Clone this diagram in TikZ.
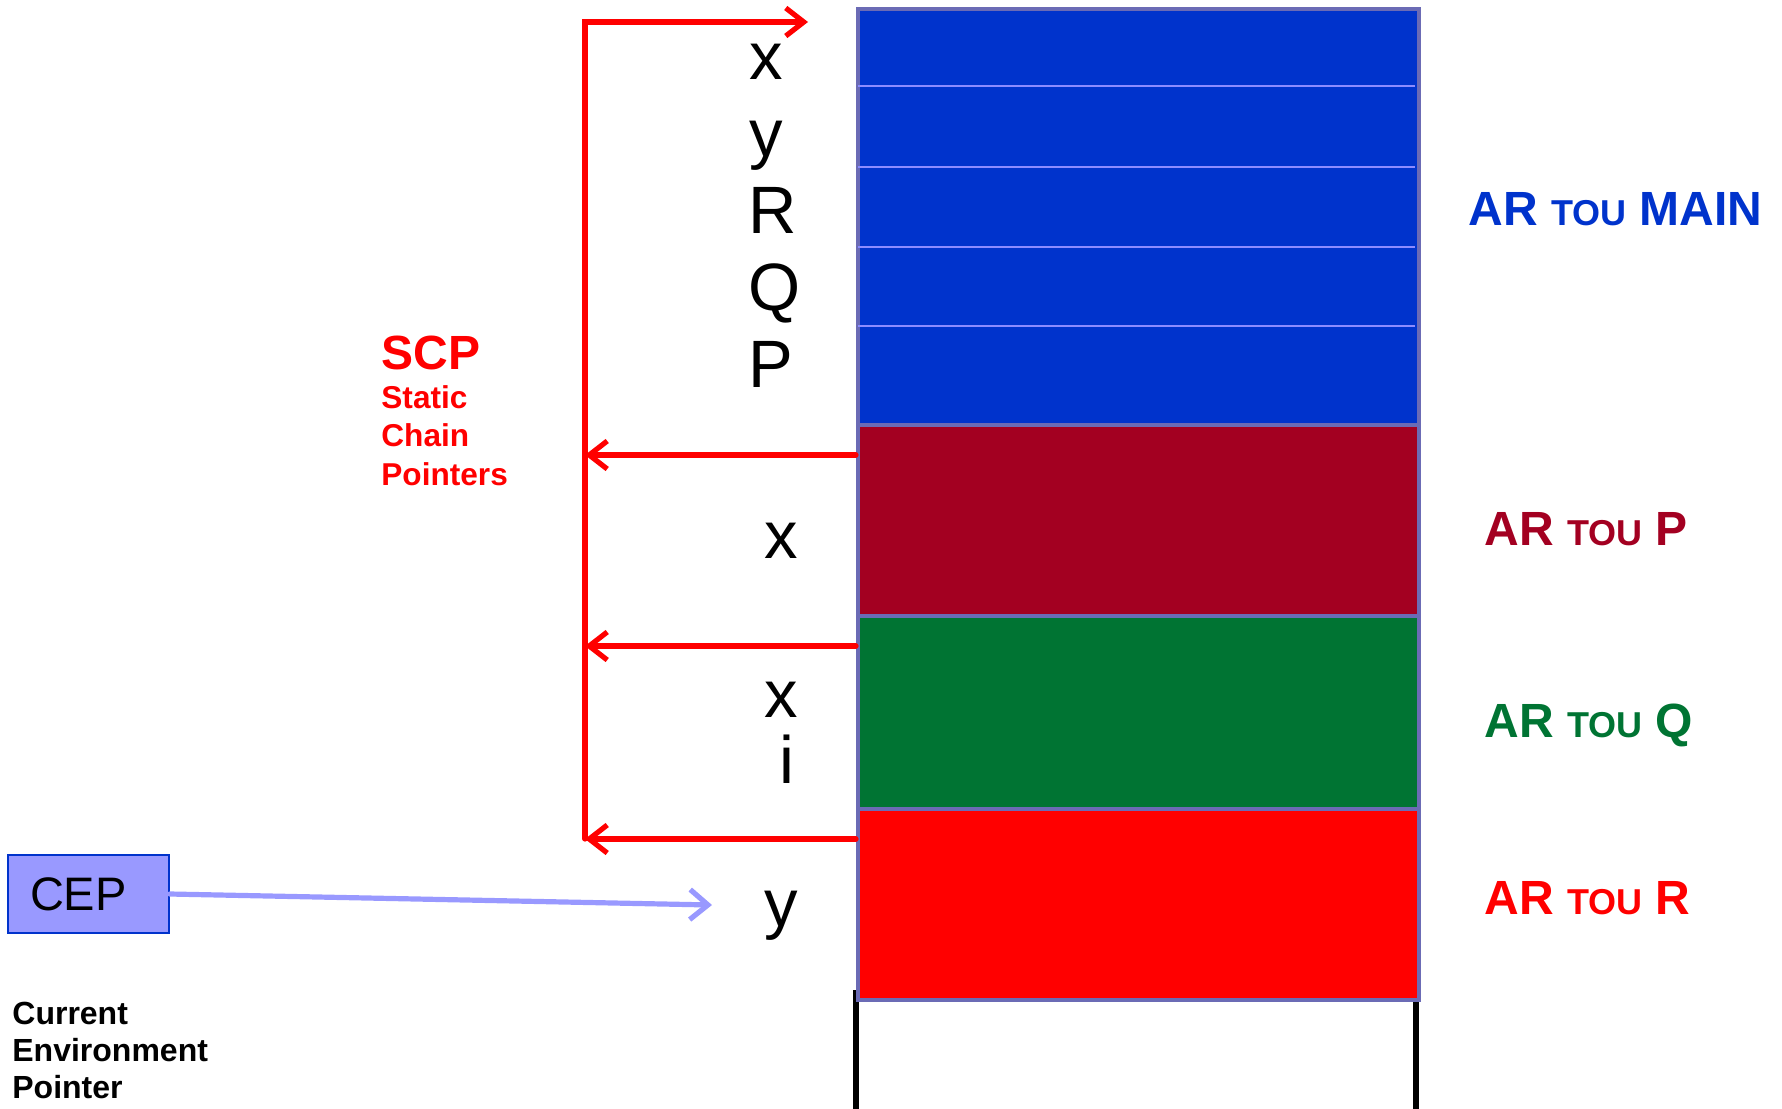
\documentclass[tikz,border=0pt]{standalone}
\usepackage{fontspec}
\setmainfont{Liberation Sans}
\usetikzlibrary{arrows.meta}

\definecolor{arblue}{HTML}{0033CC}
\definecolor{arwine}{HTML}{A30021}
\definecolor{argreen}{HTML}{007433}
\definecolor{arred}{HTML}{FF0000}
\definecolor{frame}{HTML}{6B6BB5}
\definecolor{slot}{HTML}{8C8CFF}
\definecolor{cepfill}{HTML}{9999FF}

\newcommand{\tou}{{\fontsize{18}{18}\selectfont TOU}}

\tikzstyle{arbox} = [rectangle, draw=frame, line width=2.2pt, minimum width=280.5pt, inner sep=0pt, anchor=north west]
\tikzstyle{varlab} = [font=\fontsize{33.5}{33.5}\selectfont, inner sep=0pt]
\tikzstyle{arlab} = [font=\bfseries\fontsize{24}{24}\selectfont, inner sep=0pt, anchor=base west]
\tikzstyle{scp} = [draw=arred, line width=2.6pt, line cap=round, -{Straight Barb[length=9pt,width=14pt]}]
\tikzstyle{cepline} = [draw=cepfill, line width=2.6pt, line cap=round, -{Straight Barb[length=9pt,width=15pt]}]
\tikzstyle{cepbox} = [rectangle, draw=arblue, line width=0.8pt, fill=cepfill, minimum height=39pt, text width=58.5pt, inner xsep=11pt, align=left, font=\fontsize{23.5}{23.5}\selectfont]
\tikzstyle{slotline} = [draw=slot, line width=0.8pt]
\tikzstyle{leg} = [draw=black, line width=3pt]

\begin{document}
\begin{tikzpicture}[x=0.5pt, y=-0.5pt]
    \useasboundingbox (0,0) rectangle (1782,1108);

    % legs of the stack
    \coordinate (legL) at (856,990);
    \coordinate (legR) at (1416,990);
    \draw[leg] (legL) -- ++(0,125);
    \draw[leg] (legR) -- ++(0,125);

    % activation records
    \node[arbox, fill=arblue, minimum height=208pt] (main) at (856,7) {};
    \node[arbox, fill=arwine, minimum height=95.5pt] (arP) at (856,423) {};
    \node[arbox, fill=argreen, minimum height=96.5pt] (arQ) at (856,614) {};
    \node[arbox, fill=arred, minimum height=95.5pt] (arR) at (856,807) {};
    \draw[slotline] (858,86) -- (1415,86);
    \draw[slotline] (858,167) -- (1415,167);
    \draw[slotline] (858,247) -- (1415,247);
    \draw[slotline] (858,326) -- (1415,326);

    % variables
    \node[varlab, anchor=base west] (mx) at (749,79) {x};
    \node[varlab, anchor=base west] (my) at (749,156) {y};
    \node[varlab, anchor=base west] (mR) at (748,233) {R};
    \node[varlab, anchor=base west] (mQ) at (748,310) {Q};
    \node[varlab, anchor=base west] (mP) at (748,387) {P};
    \node[varlab, anchor=base] (px) at (781,558) {x};
    \node[varlab, anchor=base] (qx) at (781,717) {x};
    \node[varlab, anchor=base] (qi) at (787,783) {i};
    \node[varlab, anchor=base] (ry) at (781,926) {y};

    % labels
    \node[arlab, text=arblue] (labmain) at (1468,225) {AR \tou{} MAIN};
    \node[arlab, text=arwine] (labP) at (1484,545) {AR \tou{} P};
    \node[arlab, text=argreen] (labQ) at (1484,737) {AR \tou{} Q};
    \node[arlab, text=arred] (labR) at (1484,914) {AR \tou{} R};

    % static chain
    \node[arlab, text=arred] (scptitle) at (381,369) {SCP};
    \node[anchor=north west, inner sep=0pt, align=left, text=arred, font=\bfseries\fontsize{15.8}{19.3}\selectfont] (scpdesc) at (381,385) {Static\\Chain\\Pointers};
    \coordinate (top) at (585,22);
    \coordinate (topend) at (808,22);
    \coordinate (sP) at ([yshift=-16pt]arP.north west);
    \coordinate (sQ) at ([yshift=-16pt]arQ.north west);
    \coordinate (sR) at ([yshift=-16pt]arR.north west);
    \draw[scp] (sR -| top) -- (top) -- (topend);
    \draw[scp] (sP) -- (sP -| top);
    \draw[scp] (sQ) -- (sQ -| top);
    \draw[scp] (sR) -- (sR -| top);

    % current environment pointer
    \node[cepbox] (cep) at (88.5,894) {CEP};
    \coordinate (cepend) at (712,905);
    \draw[cepline] (cep.east) -- (cepend);
    \node[anchor=north west, inner sep=0pt, align=left, font=\bfseries\fontsize{16}{18.5}\selectfont] (ceptext) at (12,1002) {Current\\Environment\\Pointer};
\end{tikzpicture}
\end{document}
